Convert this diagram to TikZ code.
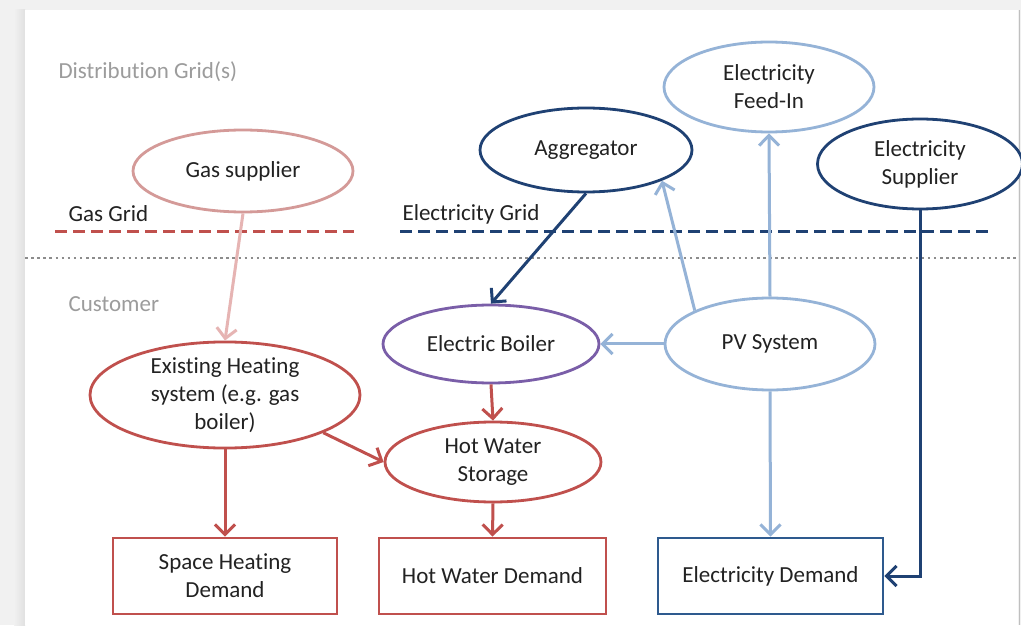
\documentclass[tikz,border=0pt]{standalone}
\usepackage{fontspec}
\setmainfont{Carlito}[Ligatures=NoCommon]
\usetikzlibrary{shapes.geometric,arrows.meta}

\definecolor{pagegray}{HTML}{F1F1F1}
\definecolor{txt}{HTML}{222222}
\definecolor{lbl}{HTML}{9C9C9C}
\definecolor{heatred}{HTML}{C0504D}
\definecolor{gaspink}{HTML}{D49A98}
\definecolor{gasarrow}{HTML}{E6B4B3}
\definecolor{boilerpurple}{HTML}{7A5EA8}
\definecolor{darkblue}{HTML}{1F4173}
\definecolor{boxblue}{HTML}{2E5A8E}
\definecolor{lightblue}{HTML}{95B3D7}
\definecolor{dotgray}{HTML}{8C8C8C}

\tikzset{
  every node/.style={font=\fontsize{23}{28}\selectfont, text=txt},
  oval/.style={ellipse, draw, line width=2.8pt, inner sep=0pt, align=center, fill=white},
  demandbox/.style={rectangle, draw, line width=2.8pt, inner sep=0pt, align=center,
                    minimum width=225pt, minimum height=76pt},
  flow/.style={line width=3pt, -{Straight Barb[length=10pt,width=20pt,line width=3pt]}},
  zonelabel/.style={text=lbl, anchor=west},
  gridlabel/.style={anchor=west},
  griddash/.style={line width=3pt, dash pattern=on 12pt off 6pt}
}

\begin{document}
\begin{tikzpicture}[x=1pt,y=-1pt]
  % page and panel
  \fill[pagegray] (0,0) rectangle (1021,625);
  \shade[left color=pagegray, right color=black!12] (14,10) rectangle (25,625);
  \fill[white] (25,10) rectangle (1018,625);
  \draw[black!25, line width=1pt] (1019,10) -- (1019,625);
  \useasboundingbox (0,0) rectangle (1021,625);

  % zone labels
  \node[zonelabel] (distlbl) at (55,72) {Distribution Grid(s)};
  \node[zonelabel] (custlbl) at (65,304) {Customer};
  \node[gridlabel] (gaslbl) at (65,214) {Gas Grid};
  \node[gridlabel] (eleclbl) at (399,214) {Electricity Grid};

  % grid lines and zone boundary
  \draw[griddash, heatred] (55,232) -- (354,232);
  \draw[griddash, darkblue] (400,232) -- (990,232);
  \draw[dotgray, line width=2.5pt, dash pattern=on 2.5pt off 3.6pt] (25,258) -- (1018,258);

  % distribution-side actors
  \node[oval, draw=gaspink, minimum width=220pt, minimum height=82pt] (gas) at (243,171) {Gas supplier};
  \node[oval, draw=darkblue, minimum width=212pt, minimum height=84pt] (agg) at (586,150) {Aggregator};
  \node[oval, draw=lightblue, minimum width=210pt, minimum height=90pt] (feed) at (769,87) {Electricity\\Feed-In};
  \node[oval, draw=darkblue, minimum width=205pt, minimum height=90pt] (sup) at (920,164) {Electricity\\Supplier};

  % customer-side devices
  \node[oval, draw=heatred, minimum width=270pt, minimum height=104pt] (ehs) at (225,395) {Existing Heating\\system (e.g. gas\\boiler)};
  \node[oval, draw=boilerpurple, minimum width=216pt, minimum height=78pt] (eb) at (491,344) {Electric Boiler};
  \node[oval, draw=heatred, minimum width=216pt, minimum height=80pt] (hws) at (493,462) {Hot Water\\Storage};
  \node[oval, draw=lightblue, minimum width=210pt, minimum height=92pt] (pv) at (770,344) {PV System};

  % demands
  \node[demandbox, draw=heatred, minimum width=224pt] (shd) at (225,576) {Space Heating\\Demand};
  \node[demandbox, draw=heatred, minimum width=227pt] (hwd) at (492.5,576) {Hot Water Demand};
  \node[demandbox, draw=boxblue] (ed) at (770.5,576) {Electricity Demand};

  % flows
  \draw[flow, gasarrow] (gas.south) -- (ehs.north);
  \draw[flow, darkblue] (agg.south) -- (eb.north);
  \draw[flow, lightblue] (pv.156) -- (agg.-22);
  \draw[flow, lightblue] (pv.north) -- (feed.south);
  \draw[flow, lightblue] (pv.west) -- (eb.east);
  \draw[flow, lightblue] (pv.south) -- (ed.north);
  \draw[flow, darkblue] (sup.south) |- (ed.east);
  \draw[flow, heatred] (eb.south) -- (hws.north);
  \draw[flow, heatred] (ehs.-21) -- (hws.west);
  \draw[flow, heatred] (ehs.south) -- (shd.north);
  \draw[flow, heatred] (hws.south) -- (hwd.north);
\end{tikzpicture}
\end{document}
